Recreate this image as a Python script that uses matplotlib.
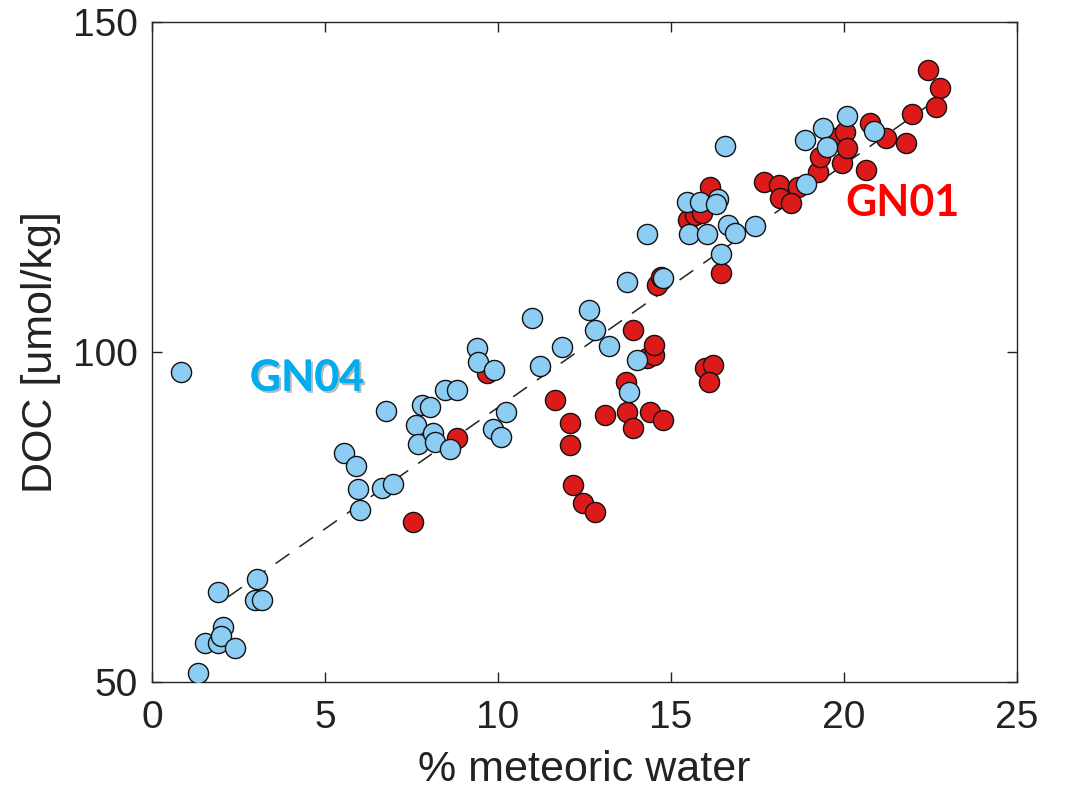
import matplotlib
matplotlib.use("Agg")
import matplotlib.pyplot as plt
import matplotlib.patheffects as pe
import numpy as np

# GN04 (blue) samples: % meteoric water, DOC
gn04_x = [0.84, 1.33, 1.53, 1.91, 1.91, 2.05, 2.00, 2.40, 3.03, 2.98, 3.18,
          5.55, 5.90, 5.95, 6.01, 6.65, 6.97, 6.76, 7.63, 7.69, 7.80, 8.03,
          8.12, 8.18, 8.47, 8.81, 8.61, 9.39, 9.42, 9.88, 9.86, 10.10, 10.23,
          10.98, 11.20, 11.85, 12.63, 12.80, 13.21, 13.72, 13.78, 14.02, 14.31,
          14.77, 15.46, 15.84, 16.36, 16.30, 15.52, 16.04, 16.65, 16.85, 17.43,
          16.45, 16.56, 18.87, 19.39, 20.09, 19.51, 20.87, 18.90]
gn04_y = [97.0, 51.4, 55.9, 63.6, 55.9, 58.4, 57.0, 55.1, 65.6, 62.4, 62.4,
          84.7, 82.8, 79.3, 76.0, 79.4, 80.0, 91.1, 89.0, 86.1, 91.9, 91.6,
          87.7, 86.4, 94.2, 94.2, 85.3, 100.6, 98.5, 97.3, 88.4, 87.1, 90.9,
          105.2, 97.9, 100.8, 106.4, 103.3, 100.9, 110.6, 93.9, 98.8, 117.9,
          111.2, 122.7, 122.7, 123.2, 122.4, 117.9, 117.9, 119.2, 118.0, 119.1,
          114.8, 131.2, 132.1, 133.9, 135.8, 131.1, 133.5, 125.5]

# GN01 (red) samples
gn01_x = [7.54, 8.81, 9.68, 11.65, 12.08, 12.08, 12.17, 12.46, 12.80, 13.10,
          13.73, 13.90, 13.70, 13.90, 14.31, 14.50, 14.50, 14.40, 14.77, 15.98,
          16.20, 16.10, 14.60, 14.70, 16.45, 15.50, 15.70, 15.90, 16.13, 17.69,
          18.12, 18.67, 18.15, 18.46, 19.25, 19.30, 19.94, 20.64, 19.70, 20.03,
          20.10, 20.75, 21.20, 21.80, 21.97, 22.43, 22.77, 22.66]
gn01_y = [74.2, 87.0, 96.8, 92.7, 89.2, 85.9, 79.8, 77.1, 75.8, 90.5,
          90.9, 88.5, 95.5, 103.3, 99.1, 99.5, 101.1, 90.9, 89.7, 97.6,
          98.0, 95.5, 110.2, 111.4, 112.0, 120.0, 120.8, 121.0, 125.0, 125.8,
          125.3, 125.0, 123.3, 122.6, 127.3, 129.5, 128.6, 127.6, 132.4, 133.3,
          130.9, 134.7, 132.4, 131.7, 136.1, 142.7, 140.0, 137.1]

# regression line
fit_slope = 3.68
fit_intercept = 54.8
fit_x_range = [2.2, 22.4]

x_ticks = [0, 5, 10, 15, 20, 25]
y_ticks = [50, 100, 150]

plt.rcParams['font.family'] = ['Liberation Sans', 'DejaVu Sans']

fig = plt.figure(figsize=(10.66, 7.91), dpi=100)
ax = fig.add_axes([152/1066, 1 - 682/791, (1017-152)/1066, (682-22)/791])

fx = np.array(fit_x_range)
ax.plot(fx, fit_intercept + fit_slope * fx, color='#222222', lw=1.1,
        dashes=[11, 8], zorder=1)

ax.scatter(gn01_x, gn01_y, s=210, c='#DD1A1A', edgecolors='#111111',
           linewidths=1.0, zorder=2)
ax.scatter(gn04_x, gn04_y, s=210, c='#8DCDF3', edgecolors='#111111',
           linewidths=1.0, zorder=3)

ax.set_xlim(0, 25)
ax.set_ylim(50, 150)
ax.set_xticks(x_ticks)
ax.set_yticks(y_ticks)
ax.tick_params(direction='in', length=7, width=1, labelsize=28,
               top=True, right=True, colors='#222222')
ax.tick_params(axis='x', pad=13)
ax.tick_params(axis='y', pad=10)
for s in ax.spines.values():
    s.set_linewidth(1.0)
    s.set_color('#262626')

ax.set_xlabel('% meteoric water', fontsize=31, labelpad=10, color='#222222')
ax.set_ylabel('DOC [umol/kg]', fontsize=31, labelpad=9, color='#222222')

ax.text(4.48, 96.1, 'GN04', fontsize=31, fontweight='bold', family='Lato',
        color='#00AEEF', ha='center', va='center', zorder=4,
        path_effects=[pe.withSimplePatchShadow(offset=(1.5, -1.5),
                                               shadow_rgbFace='#666666',
                                               alpha=0.45),
                      pe.Normal()])
ax.text(21.7, 122.6, 'GN01', fontsize=31, fontweight='bold', family='Lato',
        color='#FF0000', ha='center', va='center', zorder=4)

fig.savefig('out.png', dpi=100)
